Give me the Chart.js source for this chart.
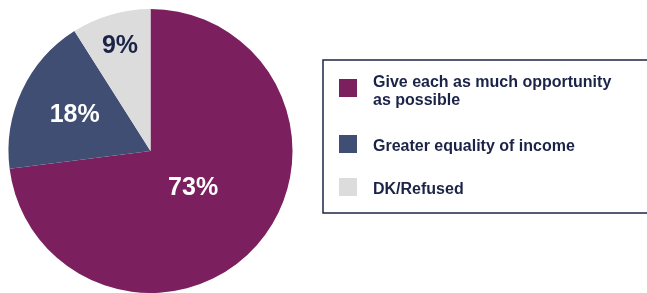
<!DOCTYPE html>
<html>
<head>
<meta charset="utf-8">
<script src="https://cdn.jsdelivr.net/npm/chart.js@4"></script>
<style>
  html, body { margin: 0; padding: 0; background: #ffffff; }
  #wrap { position: relative; width: 647px; height: 293px; }
</style>
</head>
<body>
<div id="wrap"><canvas id="pie" width="647" height="293"></canvas></div>
<script>
// values
var categories = [
    ['Give each as much opportunity', 'as possible'],
    ['Greater equality of income'],
    ['DK/Refused']
];
var shares = [73, 18, 9];
var sliceColors = ['#7b1f5e', '#3f4e72', '#dcdcdc'];
var valueColors = ['#ffffff', '#ffffff', '#1b2347'];

// labels inside slices, and the boxed legend on the right
var piePainter = {
    id: 'piePainter',
    afterDraw: function(chart, args, opts){
        var ctx = chart.ctx;
        var meta = chart.getDatasetMeta(0);
        ctx.save();

        // percentages
        ctx.font = 'bold 25px "Liberation Sans", Arial, sans-serif';
        ctx.textAlign = 'center';
        ctx.textBaseline = 'middle';
        meta.data.forEach(function(arc, i){
            var mid = (arc.startAngle + arc.endAngle) / 2;
            var r = arc.outerRadius * opts.labelRadius[i];
            ctx.fillStyle = valueColors[i];
            ctx.fillText(shares[i] + '%', arc.x + Math.cos(mid) * r, arc.y + Math.sin(mid) * r);
        });

        // legend box
        ctx.strokeStyle = '#1e2346';
        ctx.lineWidth = 1.5;
        ctx.strokeRect(opts.box.x, opts.box.y, opts.box.w, opts.box.h);

        ctx.font = 'bold 16px "Liberation Sans", Arial, sans-serif';
        ctx.textAlign = 'left';
        ctx.textBaseline = 'alphabetic';
        categories.forEach(function(lines, i){
            ctx.fillStyle = sliceColors[i];
            ctx.fillRect(opts.swatchX, opts.swatchY[i], 18, 18);
            ctx.fillStyle = '#1b2347';
            for (var k = 0; k < lines.length; k++){
                ctx.fillText(lines[k], opts.textX, opts.baseY[i] + k * 18);
            }
        });
        ctx.restore();
    }
};

new Chart(document.getElementById('pie'), {
    type: 'pie',
    data: {
        labels: categories,
        datasets: [{
            data: shares,
            backgroundColor: sliceColors,
            borderWidth: 0
        }]
    },
    options: {
        responsive: false,
        animation: false,
        layout: { padding: { left: 7, right: 353, top: 9, bottom: 0 } },
        plugins: {
            legend: { display: false },
            tooltip: { enabled: false },
            piePainter: {
                labelRadius: [0.4, 0.59, 0.77],
                box: { x: 323, y: 60, w: 340, h: 153 },
                swatchX: 339,
                swatchY: [79, 135, 178],
                textX: 373,
                baseY: [87, 151, 194]
            }
        }
    },
    plugins: [piePainter]
});
</script>
</body>
</html>
